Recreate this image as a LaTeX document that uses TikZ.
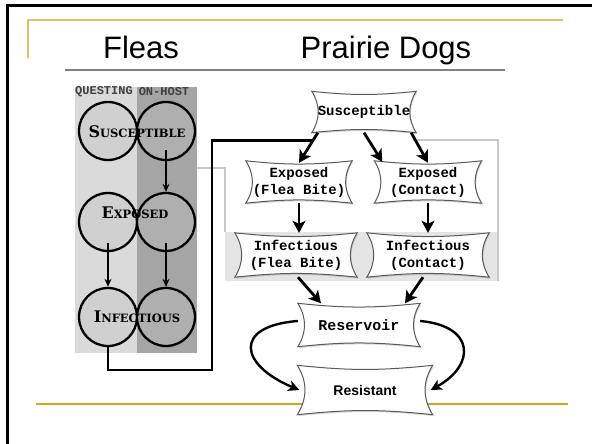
\documentclass[tikz,border=0pt]{standalone}
\usepackage{fontspec}
\setmainfont{Liberation Sans}
\setmonofont{Liberation Mono}
\newfontfamily\slabfont{DejaVu Serif}
\usetikzlibrary{arrows.meta,calc,backgrounds,shadows}

\definecolor{topgold}{RGB}{230,190,95}
\definecolor{lowgold}{RGB}{215,165,25}
\definecolor{questgray}{RGB}{218,218,218}
\definecolor{hostgray}{RGB}{165,165,165}
\definecolor{questcirc}{RGB}{208,208,208}
\definecolor{hostcirc}{RGB}{175,175,175}
\definecolor{boxgray}{RGB}{228,228,228}
\definecolor{edgegray}{RGB}{200,200,200}

% big first letter, the rest as small capitals
\newcommand{\fleacap}[2]{{\fontsize{16}{16}\selectfont #1}{\fontsize{11.5}{12}\selectfont #2}}

\tikzset{
  qcircle/.style={draw, circle, line width=2.3pt, minimum size=58pt, inner sep=0pt, fill=#1},
  fleatext/.style={font=\slabfont\bfseries, inner sep=0pt},
  fleaarrow/.style={line width=1.3pt, -{Stealth[length=8pt,width=7pt]}},
  ribbon/.style={font=\ttfamily\bfseries\fontsize{14}{17}\selectfont, align=center, inner sep=0pt},
  ribbonline/.style={draw=black!65, line width=1pt, fill=white,
    drop shadow={shadow xshift=1pt, shadow yshift=-1.5pt, opacity=0.3}},
  bigarrow/.style={line width=2.8pt, -{Stealth[length=12pt,width=13pt,inset=3pt]}},
  bendarrow/.style={line width=2.4pt, -{Stealth[length=11pt,width=11pt,inset=3pt]}},
}

\begin{document}
\begin{tikzpicture}[x=1pt, y=-1pt]
  \useasboundingbox (0,0) rectangle (592,444);

  % frame, rules and shaded areas
  \begin{scope}[on background layer]
    \draw[line width=3pt] (7,444) -- (7,6) -- (592,6);
    \draw[topgold, line width=2pt] (28,58) -- (28,20) -- (563,20);
    \draw[lowgold, line width=2pt] (36,404) -- (568,404);
    \draw[black!50, line width=2pt] (65,70) -- (505,70);
    \fill[questgray] (75,87) rectangle (137,353);
    \fill[hostgray] (137,87) rectangle (197,353);
    \fill[boxgray] (225,232) rectangle (498,281);
    \draw[edgegray, line width=1.5pt] (197,168) -- (225,168) -- (225,232);
    \draw[edgegray, line width=1.5pt] (413,140) -- (498,140) -- (498,281);
  \end{scope}

  \node[font=\fontsize{31}{31}\selectfont, anchor=base] (tfleas) at (141,59) {Fleas};
  \node[font=\fontsize{31}{31}\selectfont, anchor=base] (tdogs) at (386,59) {Prairie Dogs};

  \node[font=\ttfamily\bfseries\fontsize{12}{12}\selectfont, text=black!75] (lquest) at (104,92) {QUESTING};
  \node[font=\ttfamily\bfseries\fontsize{12}{12}\selectfont, text=black!75] (lhost) at (164,92) {ON-HOST};

  \foreach \r/\y in {sus/131, exp/222, inf/317} {
    \node[qcircle=questcirc] (q\r) at (108,\y) {};
    \node[qcircle=hostcirc] (h\r) at (166,\y) {};
  }
  \node[fleatext] (lsus) at (137,132) {\fleacap{S}{USCEPTIBLE}};
  \node[fleatext] (lexp) at (135,213) {\fleacap{E}{XPOSED}};
  \node[fleatext] (linf) at (137,317) {\fleacap{I}{NFECTIOUS}};

  \draw[fleaarrow] ($(hsus.center)+(0,19)$) -- (hexp.north);
  \draw[fleaarrow] ($(qexp.center)+(0,21)$) -- (qinf.north);
  \draw[fleaarrow] ($(hexp.center)+(0,21)$) -- (hinf.north);

  % prairie dog states
  \node[ribbon, minimum width=104pt, minimum height=41pt] (sus) at (364,112) {Susceptible};
  \node[ribbon, minimum width=106pt, minimum height=42pt] (expf) at (299,182) {Exposed\\(Flea Bite)};
  \node[ribbon, minimum width=107pt, minimum height=42pt] (expc) at (428,182) {Exposed\\(Contact)};
  \node[ribbon, minimum width=122pt, minimum height=44pt] (inff) at (296,255) {Infectious\\(Flea Bite)};
  \node[ribbon, minimum width=122pt, minimum height=44pt] (infc) at (428,255) {Infectious\\(Contact)};
  \node[ribbon, minimum width=122pt, minimum height=43pt, font=\ttfamily\bfseries\fontsize{15}{17}\selectfont] (res) at (359,325) {Reservoir};
  \node[ribbon, minimum width=135pt, minimum height=49pt, font=\bfseries\fontsize{14}{17}\selectfont] (rst) at (365,390) {Resistant};

  \begin{scope}[on background layer]
    \foreach \n in {sus, expf, expc, inff, infc, res, rst}
      \draw[ribbonline] (\n.north west) to[bend right=6] (\n.north east)
        to[bend right=32] (\n.south east) to[bend right=6] (\n.south west)
        to[bend right=32] (\n.north west) -- cycle;
  \end{scope}

  \draw[bigarrow] ([xshift=6pt]sus.south west) -- coordinate[pos=0.25] (bite) ([yshift=-2pt]expf.north);
  \draw[bigarrow] (sus.south) -- ([xshift=8pt,yshift=-1pt]expc.north west);
  \draw[bigarrow] ([xshift=-5pt]sus.south east) -- ([yshift=-2pt]expc.north);
  \draw[bigarrow] (expf.south) -- (expf.south |- inff.north);
  \draw[bigarrow] (expc.south) -- (expc.south |- infc.north);
  \draw[bigarrow] ([xshift=2pt]inff.south) -- ([xshift=-38pt]res.north);
  \draw[bigarrow] ([xshift=-5pt]infc.south) -- ([xshift=46pt]res.north);

  % flea bites feed the exposed (flea bite) path
  \coordinate (loopcorner) at (212,370);
  \draw[line width=2.8pt] (qinf.south) |- (loopcorner) |- (bite);

  \draw[bendarrow] ([yshift=4pt]res.west) .. controls +(-65,5) and +(-60,-25) .. ([xshift=2pt]rst.west);
  \draw[bendarrow] ([yshift=4pt]res.east) .. controls +(55,5) and +(45,-25) .. ([xshift=-2pt]rst.east);
\end{tikzpicture}
\end{document}
